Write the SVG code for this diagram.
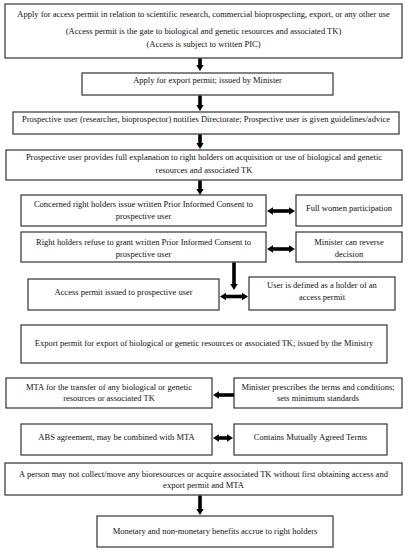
<svg xmlns="http://www.w3.org/2000/svg" width="408" height="550" viewBox="0 0 408 550">
<defs>
<style>
.box{fill:#ffffff;stroke:#333333;stroke-width:1.2}
text{font-family:"Liberation Serif","Times New Roman",serif;font-size:8.5px;fill:#111;text-anchor:middle}
.c{stroke:#000;stroke-width:3.6;fill:none}
</style>
<marker id="ah" markerUnits="userSpaceOnUse" markerWidth="7" markerHeight="8" refX="2" refY="4" orient="auto-start-reverse">
<path d="M0,0.3 L6,4 L0,7.7 z" fill="#000"/>
</marker>
</defs>
<rect width="408" height="550" fill="#ffffff"/>
<g id="n1"><rect class="box" x="5" y="4" width="397" height="54"/>
<text x="203.5" y="17">Apply for access permit in relation to scientific research, commercial bioprospecting, export, or any other use</text>
<text x="203.5" y="34">(Access permit is the gate to biological and genetic resources and associated TK)</text>
<text x="203.5" y="46.5">(Access is subject to written PIC)</text></g>
<g id="n2"><rect class="box" x="82" y="73" width="251" height="22"/>
<text x="207.5" y="83">Apply for export permit; issued by Minister</text></g>
<g id="n3"><rect class="box" x="13" y="112" width="386" height="22"/>
<text x="206" y="122">Prospective user (researcher, bioprospector) notifies Directorate; Prospective user is given guidelines/advice</text></g>
<g id="n4"><rect class="box" x="6" y="150" width="396" height="30"/>
<text x="204" y="160">Prospective user provides full explanation to right holders on acquisition or use of biological and genetic</text>
<text x="204" y="173">resources and associated TK</text></g>
<g id="n5"><rect class="box" x="21" y="195" width="245" height="31"/>
<text x="143.5" y="207">Concerned right holders issue written Prior Informed Consent to</text>
<text x="143.5" y="219">prospective user</text></g>
<g id="n6"><rect class="box" x="296" y="195" width="106" height="31"/>
<text x="349" y="211">Full women participation</text></g>
<g id="n7"><rect class="box" x="21" y="232" width="245" height="30"/>
<text x="143.5" y="244.5">Right holders refuse to grant written Prior Informed Consent to</text>
<text x="143.5" y="256.5">prospective user</text></g>
<g id="n8"><rect class="box" x="296" y="232" width="106" height="30"/>
<text x="349" y="244.5">Minister can reverse</text>
<text x="349" y="256.5">decision</text></g>
<g id="n9"><rect class="box" x="28" y="279" width="191" height="31"/>
<text x="123.5" y="295">Access permit issued to prospective user</text></g>
<g id="n10"><rect class="box" x="249" y="277" width="146" height="33"/>
<text x="322" y="288">User is defined as a holder of an</text>
<text x="322" y="300">access permit</text></g>
<g id="n11"><rect class="box" x="21" y="325" width="366" height="38"/>
<text x="204" y="346">Export permit for export of biological or genetic resources or associated TK; issued by the Ministry</text></g>
<g id="n12"><rect class="box" x="6" y="378" width="206" height="30"/>
<text x="109" y="390">MTA for the transfer of any biological or genetic</text>
<text x="109" y="401">resources or associated TK</text></g>
<g id="n13"><rect class="box" x="234" y="378" width="168" height="30"/>
<text x="318" y="390">Minister prescribes the terms and conditions;</text>
<text x="318" y="401">sets minimum standards</text></g>
<g id="n14"><rect class="box" x="21" y="424" width="191" height="31"/>
<text x="116.5" y="440">ABS agreement, may be combined with MTA</text></g>
<g id="n15"><rect class="box" x="234" y="424" width="153" height="31"/>
<text x="310.5" y="440">Contains Mutually Agreed Terms</text></g>
<g id="n16"><rect class="box" x="5" y="463" width="397" height="32"/>
<text x="203.5" y="477">A person may not collect/move any bioresources or acquire associated TK without first obtaining access and</text>
<text x="203.5" y="488">export permit and MTA</text></g>
<g id="n17"><rect class="box" x="97" y="516" width="236" height="31"/>
<text x="215" y="534">Monetary and non-monetary benefits accrue to right holders</text></g>
<g id="connectors">
<line class="c" x1="200" y1="58.5" x2="200" y2="67" marker-end="url(#ah)"/>
<line class="c" x1="200" y1="95.5" x2="200" y2="107" marker-end="url(#ah)"/>
<line class="c" x1="200" y1="134.5" x2="200" y2="145" marker-end="url(#ah)"/>
<line class="c" x1="200" y1="180.5" x2="200" y2="191" marker-end="url(#ah)"/>
<line class="c" x1="271" y1="211" x2="291" y2="211" marker-start="url(#ah)" marker-end="url(#ah)"/>
<line class="c" x1="271" y1="249" x2="291" y2="249" marker-start="url(#ah)" marker-end="url(#ah)"/>
<line class="c" x1="234" y1="262.5" x2="234" y2="286" marker-end="url(#ah)"/>
<line class="c" x1="224" y1="296.5" x2="244" y2="296.5" marker-start="url(#ah)" marker-end="url(#ah)"/>
<line class="c" x1="234" y1="395" x2="217" y2="395" marker-end="url(#ah)"/>
<line class="c" x1="217" y1="438" x2="229" y2="438" marker-start="url(#ah)" marker-end="url(#ah)"/>
<line class="c" x1="200" y1="495.5" x2="200" y2="511" marker-end="url(#ah)"/>
</g>
</svg>
